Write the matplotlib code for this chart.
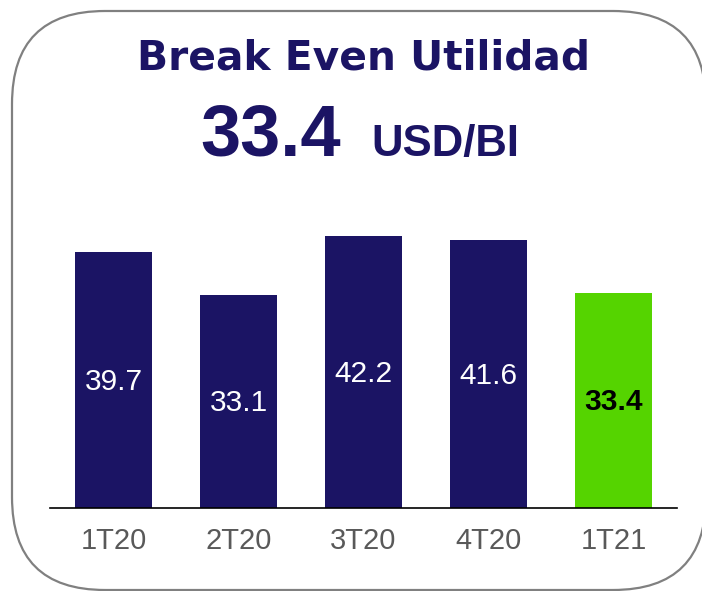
import matplotlib
matplotlib.use('Agg')
import matplotlib.pyplot as plt
import matplotlib.patches as mpatches
import numpy as np

plt.rcParams['font.family'] = ['Liberation Sans', 'DejaVu Sans']

# Data
quarters = ['1T20', '2T20', '3T20', '4T20', '1T21']
breakeven = [39.7, 33.1, 42.2, 41.6, 33.4]
title = 'Break Even Utilidad'
unit = 'USD/BI'

NAVY = '#1b1464'
GREEN = '#55d400'
W, H = 702, 591

fig = plt.figure(figsize=(W / 100, H / 100), dpi=100)

# background axes in pixel coords (y down) for the frame and headline
bg = fig.add_axes([0, 0, 1, 1])
bg.set_xlim(0, W)
bg.set_ylim(H, 0)
bg.axis('off')

frame = mpatches.FancyBboxPatch((12, 11), 694, 579,
                                boxstyle='round,pad=0,rounding_size=93',
                                facecolor='white', edgecolor='#808080', linewidth=1.6)
bg.add_patch(frame)

# title is wide in the original, DejaVu bold is the closest in extent
bg.text(363.5, 70, title, ha='center', va='baseline', fontsize=29.3,
        fontweight='bold', color=NAVY, family=['DejaVu Sans'])
bg.text(200, 156, f'{breakeven[-1]:.1f}', ha='left', va='baseline', fontsize=52,
        fontweight='bold', color=NAVY)
bg.text(371, 156, unit, ha='left', va='baseline', fontsize=31.5,
        fontweight='bold', color=NAVY)

# bar chart
px_per_unit = 6.45
ymax = 45
ax_bottom = (H - 508) / H
ax_height = ymax * px_per_unit / H
ax = fig.add_axes([50 / W, ax_bottom, 627 / W, ax_height])
ax.patch.set_alpha(0)

x = np.arange(len(quarters))
colors = [NAVY] * (len(quarters) - 1) + [GREEN]
ax.bar(x, breakeven, width=0.616, color=colors)

for i, v in enumerate(breakeven):
    last = i == len(breakeven) - 1
    ax.text(i, v / 2 - 0.3, f'{v:.1f}', ha='center', va='center', fontsize=21.5,
            color='black' if last else 'white',
            fontweight='bold' if last else 'normal')

ax.set_xlim(-0.508, 4.508)
ax.set_ylim(0, ymax)
ax.set_xticks(x)
ax.set_xticklabels(quarters, fontsize=21, color='#595959')
ax.set_yticks([])
ax.tick_params(axis='x', length=0, pad=14)
for s in ['top', 'left', 'right']:
    ax.spines[s].set_visible(False)
ax.spines['bottom'].set_color('black')
ax.spines['bottom'].set_linewidth(1.2)

plt.savefig('out.png', dpi=100)
